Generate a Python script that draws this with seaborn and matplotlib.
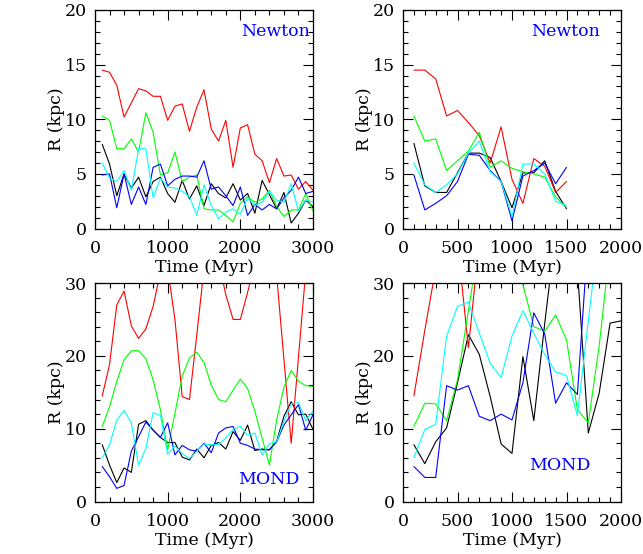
import numpy as np
import pandas as pd
import seaborn as sns
import matplotlib
matplotlib.use("Agg")
import matplotlib.pyplot as plt
from matplotlib.ticker import MultipleLocator

# ---------------- data ----------------
t3000 = np.arange(100, 3100, 100)   # 30 outputs
t1500 = np.arange(100, 1600, 100)   # 15 outputs
t2000 = np.arange(100, 2100, 100)   # 20 outputs

# Top-left: Newton, 0-3000 Myr
nl_red = [14.5, 14.3, 13.1, 10.2, 11.5, 12.8, 12.6, 12.1, 12.1, 9.9, 11.2, 11.4, 8.9, 11.1, 12.7,
          9.1, 8.0, 9.9, 5.6, 9.2, 9.5, 6.8, 6.2, 4.2, 6.4, 4.8, 4.9, 3.6, 4.3, 3.5]
nl_green = [10.3, 9.9, 7.3, 7.3, 8.2, 7.0, 10.6, 8.8, 4.9, 5.1, 7.0, 4.3, 4.7, 4.9, 1.8,
            1.7, 1.7, 1.2, 0.6, 2.3, 2.9, 2.4, 2.7, 3.5, 2.0, 1.1, 1.7, 1.7, 3.2, 1.6]
nl_black = [7.7, 5.9, 3.0, 5.0, 3.7, 4.7, 2.9, 4.3, 4.7, 3.2, 2.4, 4.4, 2.7, 3.9, 2.1,
            4.1, 3.2, 2.8, 4.1, 2.6, 3.2, 1.4, 4.4, 3.1, 1.8, 3.3, 0.5, 1.4, 2.6, 2.0]
nl_cyan = [6.0, 4.6, 4.3, 5.3, 3.5, 7.3, 7.3, 2.8, 4.6, 3.8, 3.7, 3.4, 2.9, 1.2, 4.0,
           2.1, 0.9, 1.5, 1.8, 1.3, 2.8, 2.1, 2.4, 3.4, 2.6, 2.4, 4.1, 1.6, 2.6, 2.4]
nl_blue = [4.9, 5.0, 1.9, 5.0, 2.2, 3.8, 2.2, 5.6, 5.9, 3.9, 4.5, 4.8, 4.8, 4.7, 6.2,
           3.6, 3.8, 3.0, 2.1, 3.8, 1.2, 2.2, 1.7, 2.2, 1.8, 2.8, 3.5, 4.7, 3.2, 3.4]

# Top-right: Newton, 0-1500 Myr
nr_red = [14.5, 14.5, 13.7, 10.3, 10.8, 9.7, 8.5, 6.0, 9.3, 4.5, 2.3, 6.4, 5.7, 3.3, 4.3]
nr_green = [10.3, 8.0, 8.2, 5.3, 6.2, 7.1, 8.8, 5.6, 6.2, 5.5, 5.2, 5.0, 4.7, 2.9, 1.9]
nr_black = [7.8, 3.9, 3.3, 3.3, 5.1, 6.9, 6.9, 6.5, 4.3, 1.9, 5.1, 5.1, 6.2, 3.4, 1.8]
nr_cyan = [6.0, 4.0, 3.3, 4.0, 5.0, 6.9, 8.0, 5.2, 4.3, 1.1, 5.9, 5.9, 5.0, 2.5, 2.1]
nr_blue = [4.9, 1.7, 2.3, 3.0, 4.3, 6.8, 6.7, 5.3, 4.3, 0.7, 4.8, 5.3, 6.0, 4.1, 5.6]

# Bottom-left: MOND, 0-3000 Myr
ml_red = [14.5, 18.8, 27.0, 28.9, 24.1, 22.4, 23.7, 26.8, 31.5, 32.0, 25.0, 14.4, 14.0, 22.8, 32.0,
          36.0, 33.0, 28.4, 25.0, 25.0, 28.7, 32.8, 36.0, 36.0, 31.0, 19.5, 8.0, 19.8, 31.6, 36.0]
ml_green = [10.3, 13.0, 16.5, 19.5, 20.7, 20.7, 19.6, 16.7, 12.6, 7.1, 12.1, 17.2, 19.7, 20.5, 19.1,
            16.0, 14.0, 13.7, 15.3, 16.8, 15.5, 12.4, 8.7, 5.0, 11.2, 15.7, 18.0, 16.5, 15.9, 15.8]
ml_black = [7.8, 5.0, 2.6, 4.6, 4.0, 10.6, 11.1, 9.8, 8.8, 8.1, 8.1, 6.1, 5.7, 7.2, 6.0,
            7.7, 8.1, 7.2, 9.6, 8.4, 10.5, 7.0, 7.2, 7.1, 8.3, 11.7, 13.7, 11.9, 12.0, 9.9]
ml_cyan = [6.0, 7.8, 11.2, 12.5, 10.8, 5.0, 7.3, 12.2, 11.8, 6.5, 7.6, 6.6, 5.9, 6.9, 7.9,
           7.8, 7.8, 8.7, 9.9, 10.3, 9.1, 9.4, 6.4, 7.9, 8.2, 11.0, 13.4, 13.6, 11.1, 12.4]
ml_blue = [4.8, 3.4, 1.8, 2.2, 6.9, 8.9, 10.9, 9.8, 8.8, 10.8, 6.4, 7.7, 7.1, 6.9, 8.0,
           6.7, 9.4, 10.1, 10.3, 8.0, 7.7, 7.2, 7.1, 7.1, 8.2, 10.5, 11.9, 13.3, 9.8, 11.9]

# Bottom-right: MOND, 0-2000 Myr
mr_red = [14.5, 23.5, 32.0, 36.0, 35.7, 21.1, 35.8, 40.0, 42.0, 41.0, 40.0, 43.0, 41.0, 40.0, 42.0,
          40.0, 41.0, 40.0, 42.0, 41.0]
mr_green = [10.3, 13.5, 13.4, 11.1, 16.7, 26.2, 35.8, 38.0, 37.0, 36.0, 29.8, 24.0, 23.4, 25.6, 22.2,
            12.6, 10.8, 21.4, 35.0, 40.0]
mr_black = [7.8, 5.2, 8.2, 10.1, 16.3, 22.9, 20.2, 14.4, 7.9, 6.6, 19.9, 11.1, 24.4, 37.0, 40.0,
            32.0, 9.4, 14.9, 24.5, 24.8]
mr_cyan = [6.0, 9.9, 10.6, 22.7, 26.8, 27.4, 23.1, 19.0, 17.0, 22.7, 26.2, 23.1, 20.2, 17.8, 17.3,
           11.8, 24.8, 37.5, 40.0, 40.0]
mr_blue = [4.8, 3.3, 3.3, 15.9, 15.3, 15.9, 11.7, 11.1, 12.0, 11.2, 16.3, 25.9, 23.0, 13.5, 16.3,
           14.7, 36.7, 40.0, 41.0, 40.0]

series_order = ["black", "red", "green", "blue", "cyan"]
colors = {"red": "#ff0000", "green": "#00ff00", "black": "#000000",
          "cyan": "#00ffff", "blue": "#0000ff"}

panels = [
    dict(t=t3000, data=dict(red=nl_red, green=nl_green, black=nl_black, cyan=nl_cyan, blue=nl_blue),
         xlim=(0, 3000), ylim=(0, 20), xmin=200, ymin=1,
         xticks=[0, 1000, 2000, 3000], yticks=[0, 5, 10, 15, 20],
         label="Newton", lpos=(0.985, 0.90)),
    dict(t=t1500, data=dict(red=nr_red, green=nr_green, black=nr_black, cyan=nr_cyan, blue=nr_blue),
         xlim=(0, 2000), ylim=(0, 20), xmin=100, ymin=1,
         xticks=[0, 500, 1000, 1500, 2000], yticks=[0, 5, 10, 15, 20],
         label="Newton", lpos=(0.905, 0.90)),
    dict(t=t3000, data=dict(red=ml_red, green=ml_green, black=ml_black, cyan=ml_cyan, blue=ml_blue),
         xlim=(0, 3000), ylim=(0, 30), xmin=200, ymin=2,
         xticks=[0, 1000, 2000, 3000], yticks=[0, 10, 20, 30],
         label="MOND", lpos=(0.94, 0.10)),
    dict(t=t2000, data=dict(red=mr_red, green=mr_green, black=mr_black, cyan=mr_cyan, blue=mr_blue),
         xlim=(0, 2000), ylim=(0, 30), xmin=100, ymin=2,
         xticks=[0, 500, 1000, 1500, 2000], yticks=[0, 10, 20, 30],
         label="MOND", lpos=(0.862, 0.167)),
]

sns.set_theme(style="ticks")
plt.rcParams['font.family'] = ['DejaVu Serif']
plt.rcParams['font.size'] = 12
plt.rcParams['text.color'] = 'black'
plt.rcParams['axes.labelcolor'] = 'black'
plt.rcParams['xtick.color'] = 'black'
plt.rcParams['ytick.color'] = 'black'

fig = plt.figure(figsize=(6.43, 5.54), dpi=100)
W, H = 643, 554
boxes = [(95, 10), (403, 10), (95, 283), (403, 283)]
aw, ah = 218, 218.5

for p, (x0, y0) in zip(panels, boxes):
    ax = fig.add_axes([x0 / W, 1 - (y0 + ah) / H, aw / W, ah / H])
    rows = []
    for name in series_order:
        rows.append(pd.DataFrame({"Time": p["t"], "R": p["data"][name], "series": name}))
    long = pd.concat(rows, ignore_index=True)
    for name in series_order:
        sub = long[long["series"] == name]
        sns.lineplot(data=sub, x="Time", y="R", color=colors[name], linewidth=0.8,
                     estimator=None, sort=False, ax=ax, legend=False)
    ax.set_xlim(*p["xlim"])
    ax.set_ylim(*p["ylim"])
    ax.set_xticks(p["xticks"])
    ax.set_yticks(p["yticks"])
    ax.xaxis.set_minor_locator(MultipleLocator(p["xmin"]))
    ax.yaxis.set_minor_locator(MultipleLocator(p["ymin"]))
    ax.tick_params(which="both", direction="in", top=True, right=True, labelsize=12.5,
                   width=0.8, color="black", labelcolor="black")
    ax.tick_params(which="major", length=7)
    ax.tick_params(axis="x", which="major", pad=8)
    ax.tick_params(axis="y", which="major", pad=6)
    ax.tick_params(which="minor", length=3.5)
    for s in ax.spines.values():
        s.set_linewidth(0.9)
        s.set_color("black")
    ax.set_xlabel("Time (Myr)", fontsize=12.5, labelpad=2, color="black")
    ax.set_ylabel("R (kpc)", fontsize=12.5, labelpad=0, color="black")
    ax.text(p["lpos"][0], p["lpos"][1], p["label"], transform=ax.transAxes,
            ha="right", va="center", color="blue", fontsize=12.5)

fig.savefig("out.png", dpi=100)
